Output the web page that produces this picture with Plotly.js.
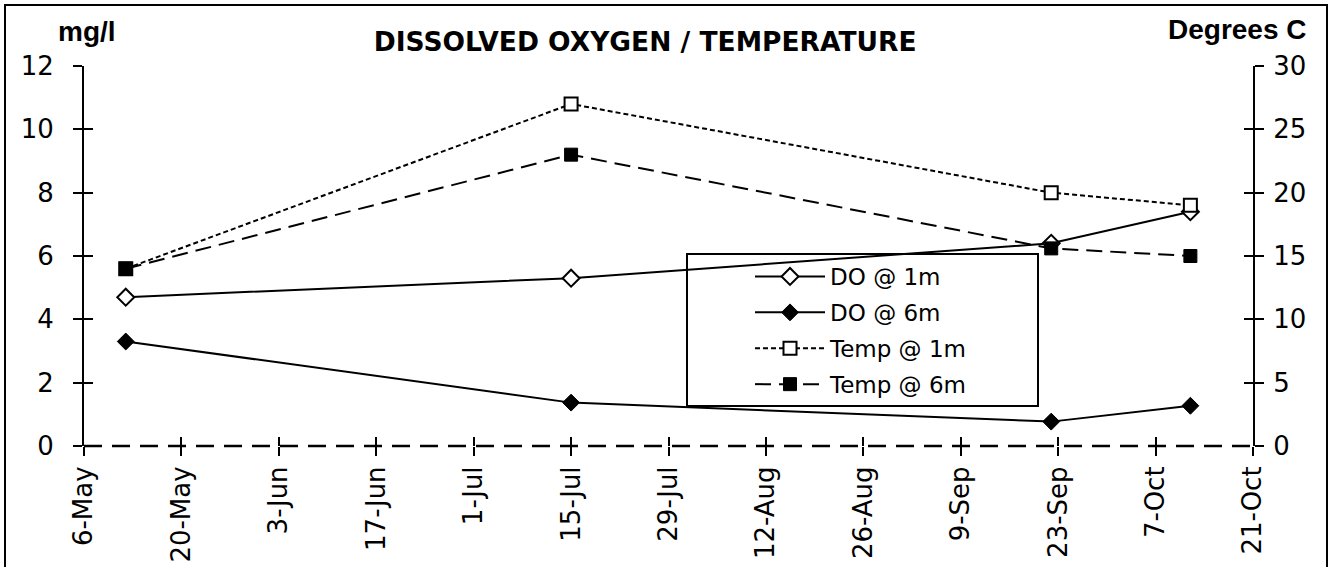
<!DOCTYPE html>
<html><head><meta charset="utf-8">
<script src="https://cdn.plot.ly/plotly-3.0.1.min.js"></script>
<style>html,body{margin:0;padding:0;background:#fff}#chart{width:1332px;height:567px}</style>
</head><body><div id="chart"></div>
<script>
// Sampling dates
const dates = ['2003-05-12', '2003-07-15', '2003-09-22', '2003-10-12'];
// Dissolved oxygen (mg/l)
const doAt1m = [4.7, 5.3, 6.4, 7.4];
const doAt6m = [3.3, 1.37, 0.77, 1.27];
// Temperature (Degrees C)
const tempAt1m = [14, 27, 20, 19];
const tempAt6m = [14, 23, 15.6, 15];
// Axis settings
const xRange = ['2003-05-06', '2003-10-21'];
const xTick0 = '2003-05-06';
const leftRange = [0, 12];
const rightRange = [0, 30];
const seriesNames = ['DO @ 1m', 'DO @ 6m', 'Temp @ 1m', 'Temp @ 6m'];

const tickFont = {family: 'DejaVu Sans', size: 26, color: '#000'};
const DAY = 86400000;

const traces = [
  {x: dates, y: doAt1m, name: seriesNames[0], legendgroup: 'a', type: 'scatter', mode: 'lines+markers',
   line: {color: '#000', width: 2}, marker: {symbol: 'diamond', size: 13, color: '#fff', line: {color: '#000', width: 2}}, xaxis: 'x', yaxis: 'y'},
  {x: dates, y: doAt6m, name: seriesNames[1], legendgroup: 'b', type: 'scatter', mode: 'lines+markers',
   line: {color: '#000', width: 2}, marker: {symbol: 'diamond', size: 13, color: '#000', line: {color: '#000', width: 1}}, xaxis: 'x', yaxis: 'y'},
  {x: dates, y: tempAt1m, name: seriesNames[2], legendgroup: 'c', type: 'scatter', mode: 'lines+markers',
   line: {color: '#000', width: 2, dash: '5px,3px'}, marker: {symbol: 'square', size: 13, color: '#fff', line: {color: '#000', width: 2}}, xaxis: 'x', yaxis: 'y2'},
  {x: dates, y: tempAt6m, name: seriesNames[3], legendgroup: 'd', type: 'scatter', mode: 'lines+markers',
   line: {color: '#000', width: 2, dash: '16px,8px'}, marker: {symbol: 'square', size: 13, color: '#000', line: {color: '#000', width: 1}}, xaxis: 'x', yaxis: 'y2'},
  // empty helper traces so the inner-tick overlay axes are drawn
  {x: [], y: [], type: 'scatter', mode: 'lines', showlegend: false, hoverinfo: 'skip', xaxis: 'x2', yaxis: 'y3'},
  {x: [], y: [], type: 'scatter', mode: 'lines', showlegend: false, hoverinfo: 'skip', xaxis: 'x2', yaxis: 'y4'}
];

const commonX = {type: 'date', range: xRange, tick0: xTick0, dtick: 14 * DAY, tickformat: '%-d-%b',
  ticklen: 9, tickwidth: 2, tickcolor: '#000', showgrid: false, zeroline: false, showline: false, fixedrange: true};
const commonYL = {range: leftRange, dtick: 2, ticklen: 9, tickwidth: 2, tickcolor: '#000', showgrid: false, zeroline: false, fixedrange: true};
const commonYR = {range: rightRange, dtick: 5, ticklen: 9, tickwidth: 2, tickcolor: '#000', showgrid: false, zeroline: false, fixedrange: true};

const layout = {
  width: 1332, height: 567,
  margin: {l: 84, r: 79, t: 66, b: 121},
  paper_bgcolor: '#fff', plot_bgcolor: 'rgba(0,0,0,0)',
  showlegend: true,
  hovermode: false,
  title: {text: '<b>DISSOLVED OXYGEN / TEMPERATURE</b>', font: {family: 'DejaVu Sans', size: 26.5, color: '#000'},
    xref: 'paper', x: 0.48, xanchor: 'center', yref: 'container', y: 1 - 42 / 567, yanchor: 'middle'},
  xaxis: Object.assign({}, commonX, {ticks: 'outside', tickangle: -90, tickfont: tickFont, ticklabelstandoff: 0}),
  xaxis2: Object.assign({}, commonX, {ticks: 'inside', showticklabels: false, overlaying: 'x', anchor: 'y3'}),
  yaxis: Object.assign({}, commonYL, {ticks: 'outside', side: 'left', showline: true, linewidth: 2, linecolor: '#000', tickfont: tickFont, ticklabelstandoff: 14}),
  yaxis3: Object.assign({}, commonYL, {ticks: 'inside', side: 'left', overlaying: 'y', anchor: 'x2', showticklabels: false, showline: false}),
  yaxis2: Object.assign({}, commonYR, {ticks: 'outside', side: 'right', overlaying: 'y', showline: true, linewidth: 2, linecolor: '#000', tickfont: tickFont, ticklabelstandoff: 4}),
  yaxis4: Object.assign({}, commonYR, {ticks: 'inside', side: 'right', overlaying: 'y', anchor: 'x2', showticklabels: false, showline: false}),
  legend: {x: (750 - 84) / 1169, xanchor: 'left', y: (446 - 255) / 380, yanchor: 'top',
    bgcolor: 'rgba(0,0,0,0)', borderwidth: 0, font: {family: 'DejaVu Sans', size: 23, color: '#000'},
    itemwidth: 70, tracegroupgap: 3, traceorder: 'grouped'},
  annotations: [
    {text: '<b>mg/l</b>', xref: 'paper', yref: 'paper', x: (87 - 84) / 1169, y: (446 - 32) / 380, xanchor: 'center', yanchor: 'middle',
     showarrow: false, font: {family: 'Liberation Sans', size: 28, color: '#000'}},
    {text: '<b>Degrees C</b>', xref: 'paper', yref: 'paper', x: (1237 - 84) / 1169, y: (446 - 30) / 380, xanchor: 'center', yanchor: 'middle',
     showarrow: false, font: {family: 'Liberation Sans', size: 28, color: '#000'}}
  ],
  shapes: [
    {type: 'line', xref: 'paper', yref: 'paper', x0: 0, x1: 1, y0: 0, y1: 0, line: {color: '#000', width: 2.5, dash: '18px,10px'}},
    {type: 'rect', xref: 'paper', yref: 'paper', x0: (687 - 84) / 1169, x1: (1038 - 84) / 1169, y0: (446 - 406) / 380, y1: (446 - 254) / 380,
     line: {color: '#000', width: 2}, fillcolor: 'rgba(0,0,0,0)', layer: 'below'},
    {type: 'rect', xref: 'paper', yref: 'paper', x0: (5 - 84) / 1169, x1: (1327 - 84) / 1169, y0: (446 - 575) / 380, y1: (446 - 5) / 380,
     line: {color: '#000', width: 2}, fillcolor: 'rgba(0,0,0,0)'}
  ]
};

Plotly.newPlot('chart', traces, layout, {displayModeBar: false, staticPlot: true});
</script>
</body></html>
